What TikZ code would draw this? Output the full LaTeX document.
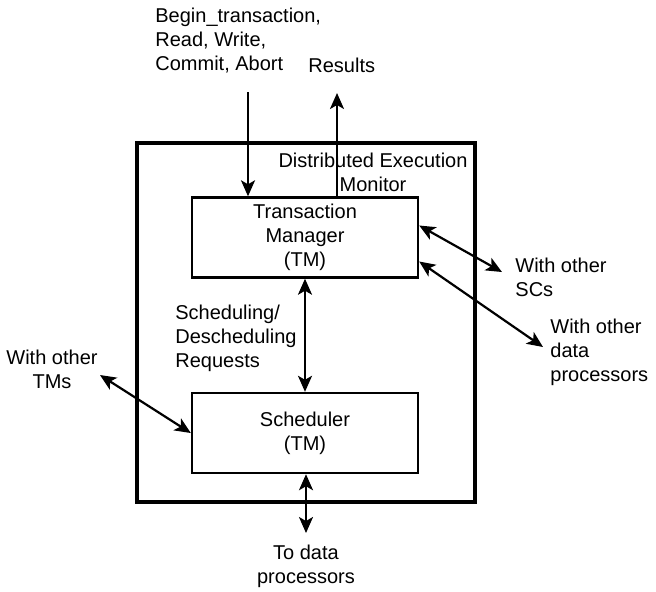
\documentclass[tikz,border=0pt]{standalone}
\usepackage{fontspec}
\setmainfont{Liberation Sans}
\usetikzlibrary{positioning, arrows.meta}

\begin{document}
\begin{tikzpicture}[
            x=0.5pt, y=-0.5pt,
            >={Stealth[length=8pt, width=7pt, inset=2pt]},
            lbl/.style={align=left, inner sep=0pt, font=\fontsize{10}{12}\selectfont},
            clbl/.style={lbl, align=center},
            block/.style={rectangle, draw, line width=1.2pt, minimum width=113pt,
                    minimum height=40pt, align=center, inner sep=0pt,
                    font=\fontsize{10}{12}\selectfont},
            monitor/.style={rectangle, draw, line width=1.7pt, minimum width=169pt,
                    minimum height=179.5pt},
            arrow/.style={->, line width=1.1pt},
            biarrow/.style={<->, line width=1.1pt},
            ]
            \useasboundingbox (0,0) rectangle (656,591);

            \node[monitor] (dem) at (306,322.5) {};
            \node[clbl] (demlbl) at (373,172) {Distributed Execution\\Monitor};
            \node[block] (tm) at (305,237.5) {Transaction\\Manager\\(TM)};
            \node[block] (sched) at (305,433) {Scheduler\\(TM)};

            % outside labels
            \node[lbl, anchor=west] (cmds) at (155,41) {Begin\_transaction,\\Read, Write,\\Commit, Abort};
            \node[lbl, anchor=west] (res) at (308,65) {Results};
            \node[lbl, anchor=west] (sched req) at (175,338) {Scheduling/\\Descheduling\\Requests};
            \node[lbl, anchor=west] (scs) at (515,277) {With other\\SCs};
            \node[lbl, anchor=west] (dps) at (550,352) {With other\\data\\processors};
            \node[clbl] (tms) at (52,369) {With other\\TMs};

            \coordinate (in) at (248,92);
            \coordinate (out) at (337,93);
            \coordinate (scend) at (502,272);
            \coordinate (dpend) at (543,347);
            \coordinate (tmend) at (100,375);
            \coordinate (todp) at (306,533);
            \node[clbl, below=6pt of todp] (todplbl) {To data\\processors};

            \draw[arrow] (in) -- (in |- tm.north);
            \draw[arrow] (tm.north -| out) -- (out);
            \draw[biarrow] (tm.south) -- (sched.north);
            \draw[biarrow] ([yshift=6pt]tm.east) -- (scend);
            \draw[biarrow] ([yshift=-12pt]tm.east) -- (dpend);
            \draw[biarrow] (tmend) -- (sched.west);
            \draw[biarrow] (sched.south -| todp) -- (todp);

        \end{tikzpicture}
\end{document}
